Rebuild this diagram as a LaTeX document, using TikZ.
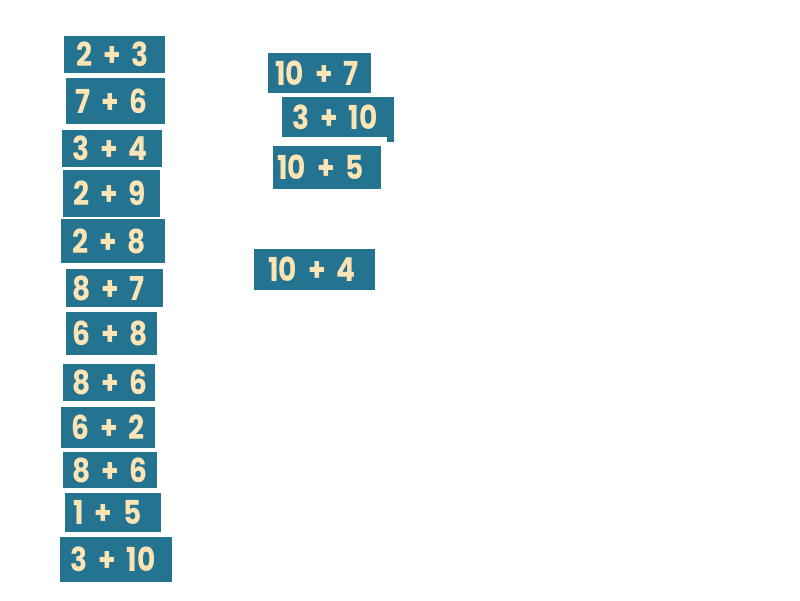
\documentclass[tikz,border=0pt]{standalone}
\usepackage{fontspec}
\newfontfamily\cardfont{Poppins}[UprightFont={* Bold}, FakeStretch=0.85]
\usepackage{tikz}

\definecolor{cardfill}{RGB}{36,115,145}
\definecolor{cardtext}{RGB}{252,228,180}

\tikzset{
    card/.style={anchor=west, fill=cardfill, text=cardtext, align=left,
        inner ysep=0pt, font=\cardfont\fontsize{33}{33}\selectfont}
}

\begin{document}
\begin{tikzpicture}[x=1pt, y=-1pt]
            \useasboundingbox (0,0) rectangle (800,600);

            % Left column
            \node (C1) [card, minimum width=101pt, minimum height=37pt, inner xsep=12pt, text width=77pt] at (64,54.5) {2~+~3};
            \node (C2) [card, minimum width=99pt, minimum height=46pt, inner xsep=9pt, text width=81pt] at (66,101) {7~+~6};
            \node (C3) [card, minimum width=100pt, minimum height=37pt, inner xsep=10pt, text width=80pt] at (62,148.5) {3~+~4};
            \node (C4) [card, minimum width=97pt, minimum height=47pt, inner xsep=10pt, text width=77pt] at (63,193.5) {2~+~9};
            \node (C5) [card, minimum width=104pt, minimum height=44pt, inner xsep=11pt, text width=82pt] at (61,241) {2~+~8};
            \node (C6) [card, minimum width=97pt, minimum height=38pt, inner xsep=6pt, text width=85pt] at (66,288) {8~+~7};
            \node (C7) [card, minimum width=91pt, minimum height=43pt, inner xsep=6pt, text width=79pt] at (66,333.5) {6~+~8};
            \node (C8) [card, minimum width=92pt, minimum height=37pt, inner xsep=9pt, text width=74pt] at (63,382.5) {8~+~6};
            \node (C9) [card, minimum width=94pt, minimum height=41pt, inner xsep=10pt, text width=74pt] at (61,427.5) {6~+~2};
            \node (C10) [card, minimum width=94pt, minimum height=36pt, inner xsep=9pt, text width=76pt] at (63,470) {8~+~6};
            \node (C11) [card, minimum width=96pt, minimum height=39pt, inner xsep=8pt, text width=80pt] at (65,512.5) {1~+~5};
            \node (C12) [card, minimum width=112pt, minimum height=45pt, inner xsep=10pt, text width=92pt] at (60,559.5) {3~+~10};

            % Right column
            \node (D1) [card, minimum width=103pt, minimum height=40pt, inner xsep=7pt, text width=89pt] at (268,73) {10~+~7};
            \node (D2) [card, minimum width=112pt, minimum height=40pt, inner xsep=10pt, text width=92pt] at (282,117) {3~+~10};
            \fill [cardfill] ([xshift=-7pt]D2.south east) rectangle ++(7,5);
            \node (D3) [card, minimum width=108pt, minimum height=43pt, inner xsep=4pt, text width=100pt] at (273,167.5) {10~+~5};
            \node (D4) [card, minimum width=121pt, minimum height=41pt, inner xsep=14pt, text width=93pt] at (254,269.5) {10~+~4};
\end{tikzpicture}
\end{document}
